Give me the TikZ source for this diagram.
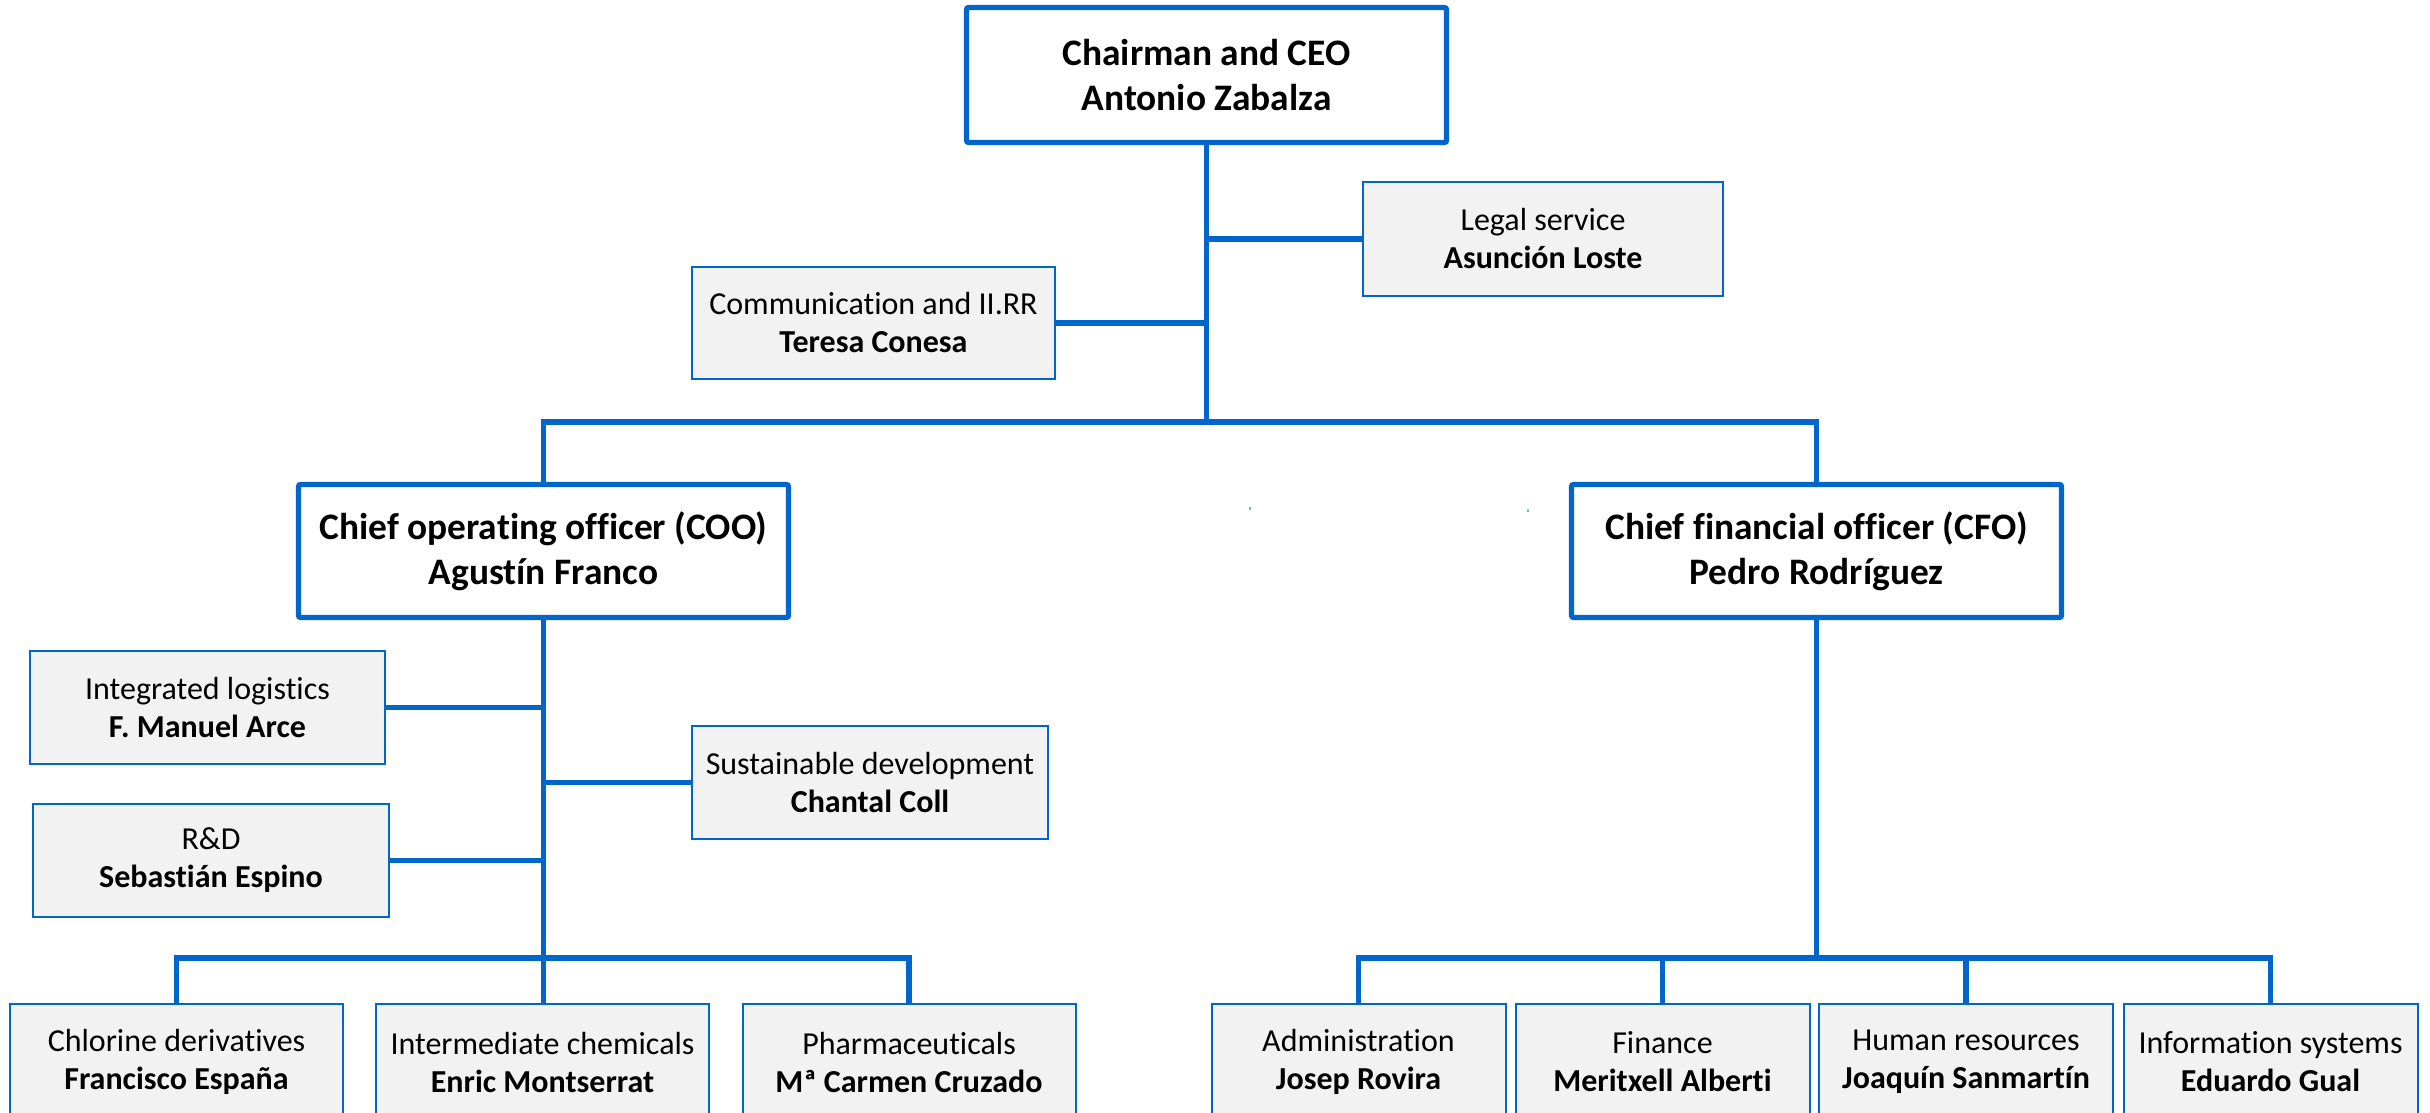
\documentclass[tikz,border=0pt]{standalone}
\usepackage{fontspec}
\setmainfont{Carlito}[Ligatures=NoCommon]
\definecolor{orgblue}{HTML}{0066CC}
\definecolor{boxgrey}{HTML}{F2F2F2}
\definecolor{dotblue}{HTML}{7FB2E5}
\begin{document}
\begin{tikzpicture}[x=0.5pt,y=-0.5pt,
  conn/.style={draw=orgblue,line width=2.6pt},
  headbox/.style={draw=orgblue,line width=2.6pt,fill=white,rounded corners=1pt,inner sep=0pt,align=center,
    font=\fontsize{18.7}{22.5}\selectfont\bfseries},
  unitbox/.style={draw=orgblue,line width=1pt,fill=boxgrey,inner sep=0pt,align=center,
    font=\fontsize{16}{19}\selectfont},
  wideunit/.style={unitbox,minimum width=166.5pt,minimum height=58pt},
  narrowunit/.style={unitbox,minimum width=147pt,minimum height=58pt}
]
\useasboundingbox (0,0) rectangle (2430,1113);
\fill[white] (0,0) rectangle (2430,1113);

% head boxes
\node[headbox,minimum width=240pt,minimum height=67.5pt] (ceo) at (1206.5,75) {Chairman and CEO\\Antonio Zabalza};
\node[headbox,minimum width=245pt,minimum height=66.5pt] (coo) at (543.5,551) {Chief operating officer (COO)\\Agustín Franco};
\node[headbox,minimum width=245pt,minimum height=66.5pt] (cfo) at (1816.5,551) {Chief financial officer (CFO)\\Pedro Rodríguez};

% staff boxes
\node[unitbox,minimum width=180pt,minimum height=57pt] (legal) at (1543,239) {Legal service\\\textbf{Asunción Loste}};
\node[unitbox,minimum width=181.5pt,minimum height=56pt] (comm) at (873.5,323) {Communication and II.RR\\\textbf{Teresa Conesa}};
\node[unitbox,minimum width=177.5pt,minimum height=56.5pt] (logi) at (207.5,707.5) {Integrated logistics\\\textbf{F. Manuel Arce}};
\node[unitbox,minimum width=178pt,minimum height=56.5pt] (rnd) at (211,860.5) {R\&D\\\textbf{Sebastián Espino}};
\node[unitbox,minimum width=178pt,minimum height=56.5pt] (sust) at (870,782.5) {Sustainable development\\\textbf{Chantal Coll}};

% business units
\node[wideunit] (chlor) at (176.5,1062) {Chlorine derivatives\\\textbf{Francisco España}};
\node[wideunit] (inter) at (542.5,1062) {Intermediate chemicals\\\textbf{Enric Montserrat}};
\node[wideunit] (pharma) at (909,1062) {Pharmaceuticals\\\textbf{Mª Carmen Cruzado}};

\node[narrowunit] (admin) at (1358.5,1062) {Administration\\\textbf{Josep Rovira}};
\node[narrowunit] (fin) at (1662.5,1062) {Finance\\\textbf{Meritxell Alberti}};
\node[narrowunit] (hr) at (1966,1062) {Human resources\\\textbf{Joaquín Sanmartín}};
\node[narrowunit] (infs) at (2270.5,1062) {Information systems\\\textbf{Eduardo Gual}};

% bus levels
\coordinate (bus) at (0,422);
\coordinate (cbus) at (0,958);

% connectors
\draw[conn] (ceo.south) -- (ceo.south |- bus);
\draw[conn] (coo.north) -- (coo.north |- bus) -- (cfo.north |- bus) -- (cfo.north);
\draw[conn] (legal.west) -- (legal.west -| ceo.south);
\draw[conn] (comm.east) -- (comm.east -| ceo.south);

\draw[conn] (coo.south) -- (coo.south |- inter.north);
\draw[conn] (logi.east) -- (logi.east -| coo.south);
\draw[conn] (rnd.east) -- (rnd.east -| coo.south);
\draw[conn] (sust.west) -- (sust.west -| coo.south);
\draw[conn] (chlor.north) -- (chlor.north |- cbus) -- (pharma.north |- cbus) -- (pharma.north);

\draw[conn] (cfo.south) -- (cfo.south |- cbus);
\draw[conn] (admin.north) -- (admin.north |- cbus) -- (infs.north |- cbus) -- (infs.north);
\draw[conn] (fin.north) -- (fin.north |- cbus);
\draw[conn] (hr.north) -- (hr.north |- cbus);

% stray dots
\fill[dotblue] (1249,507) rectangle (1251,510);
\fill[dotblue] (1527,509) rectangle (1529,512);
\end{tikzpicture}
\end{document}
